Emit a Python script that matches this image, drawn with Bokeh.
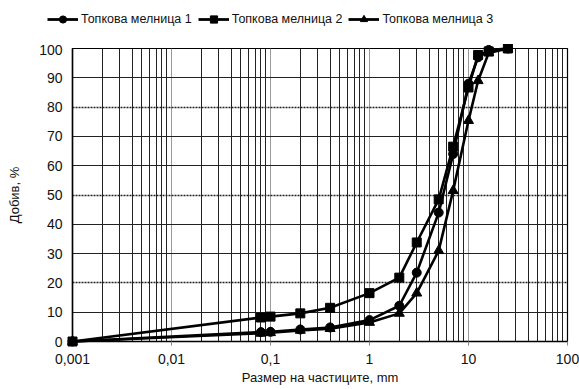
from bokeh.plotting import figure
from bokeh.layouts import column
from bokeh.models import (FixedTicker, Range1d, Legend, LegendItem, Grid,
                          CustomJSTickFormatter)
from bokeh.embed import file_html
from bokeh.resources import INLINE

# ---- data ----
sizes = [0.001, 0.08, 0.1, 0.2, 0.4, 1, 2, 3, 5, 7, 10, 12.5, 16, 25]
mill1 = [0, 3.2, 3.3, 4.1, 4.8, 7.3, 12.2, 23.5, 44, 64, 88, 97, 99.5, 100]
mill2 = [0, 8.2, 8.5, 9.6, 11.5, 16.5, 21.8, 33.8, 48.5, 66.5, 86.7, 97.8, 99, 100]
mill3 = [0, 2.8, 3.0, 3.8, 4.4, 6.5, 9.6, 16.5, 31, 51.5, 75.4, 89, 98.5, 100]
labels = ["Топкова мелница 1", "Топкова мелница 2", "Топкова мелница 3"]
x_major = [0.001, 0.01, 0.1, 1, 10, 100]
y_ticks = [0, 10, 20, 30, 40, 50, 60, 70, 80, 90, 100]
y_solid = [10, 30, 40, 60, 70, 90]
y_dotted = [20, 50, 80]
x_title = "Размер на частиците, mm"
y_title = "Добив, %"

FONT = "Liberation Sans"
series = [(mill1, "circle", labels[0], 9),
          (mill2, "square", labels[1], 9),
          (mill3, "triangle", labels[2], 10)]

x_minor = [m * d for d in x_major[:-1] for m in range(2, 10)]

# ---- main plot ----
p = figure(width=579, height=345, x_axis_type="log",
           x_range=Range1d(0.001, 100), y_range=Range1d(0, 100),
           output_backend="svg", toolbar_location=None,
           min_border_left=72, min_border_right=12, min_border_top=4,
           min_border_bottom=48)
p.background_fill_color = "white"
p.border_fill_color = "white"
p.outline_line_color = "black"
p.outline_line_width = 1.2

xa = p.xaxis[0]
xa.ticker = FixedTicker(ticks=x_major, minor_ticks=x_minor)
xa.formatter = CustomJSTickFormatter(code="return tick.toString().replace('.', ',')")
xa.major_label_text_font = FONT
xa.major_label_text_font_size = "14px"
xa.major_label_text_color = "#111"
xa.axis_label = x_title
xa.axis_label_text_font = FONT
xa.axis_label_text_font_size = "13px"
xa.axis_label_text_font_style = "normal"
xa.axis_label_text_color = "#111"
xa.axis_label_standoff = 3
xa.major_label_standoff = 8
xa.major_tick_out = 4
xa.major_tick_in = 0
xa.minor_tick_out = 0
xa.minor_tick_in = 0
xa.major_tick_line_color = "#888"
xa.axis_line_color = "black"
xa.axis_line_width = 1.5

ya = p.yaxis[0]
ya.ticker = FixedTicker(ticks=y_ticks)
ya.major_label_text_font = FONT
ya.major_label_text_font_size = "14px"
ya.major_label_text_color = "#111"
ya.axis_label = y_title
ya.axis_label_text_font = FONT
ya.axis_label_text_font_size = "13px"
ya.axis_label_text_font_style = "normal"
ya.axis_label_text_color = "#111"
ya.axis_label_standoff = 14
ya.major_label_standoff = 10
ya.major_tick_out = 0
ya.major_tick_in = 0
ya.minor_tick_out = 0
ya.minor_tick_in = 0
ya.axis_line_color = "black"
ya.axis_line_width = 1.5

p.xgrid.grid_line_color = "#9a9a9a"
p.xgrid.grid_line_width = 1
p.xgrid.minor_grid_line_color = "#222"
p.xgrid.minor_grid_line_width = 1
p.ygrid.visible = False
p.add_layout(Grid(dimension=1, ticker=FixedTicker(ticks=y_solid),
                  grid_line_color="#222", grid_line_width=1))
p.add_layout(Grid(dimension=1, ticker=FixedTicker(ticks=y_dotted),
                  grid_line_color="#222", grid_line_width=1.3,
                  grid_line_dash="2 1"))

for ys, marker, lab, size in series:
    p.line(sizes, ys, line_color="black", line_width=2.6, level="overlay")
    p.scatter(sizes, ys, marker=marker, size=size, fill_color="black",
              line_color="black", level="overlay")

# ---- legend strip (same series, ranges chosen so only the legend shows) ----
lf = figure(width=579, height=44, x_range=Range1d(0, 1),
            y_range=Range1d(1000, 1001), x_axis_location=None,
            y_axis_location=None, output_backend="svg",
            toolbar_location=None, min_border=0)
lf.grid.visible = False
lf.outline_line_color = None
try:
    lf.frame_align = False
    loc = (47, 16)
    fsize = "12.5px"
except Exception:
    loc = (0, 16)
    fsize = "12px"

items = []
for ys, marker, lab, size in series:
    lr = lf.line(sizes, ys, line_color="black", line_width=2.8)
    sr = lf.scatter(sizes, ys, marker=marker, size=size, fill_color="black",
                    line_color="black")
    items.append(LegendItem(label=lab, renderers=[lr, sr]))
legend = Legend(items=items, orientation="horizontal", location=loc,
                label_text_font=FONT, label_text_font_size=fsize,
                label_text_color="#111", glyph_width=31, glyph_height=18,
                label_height=18, label_standoff=3, spacing=6, padding=5,
                margin=0, border_line_color=None, background_fill_alpha=0)
lf.add_layout(legend)

layout = column(lf, p, spacing=0)
open("out.html", "w").write(file_html(layout, INLINE))
